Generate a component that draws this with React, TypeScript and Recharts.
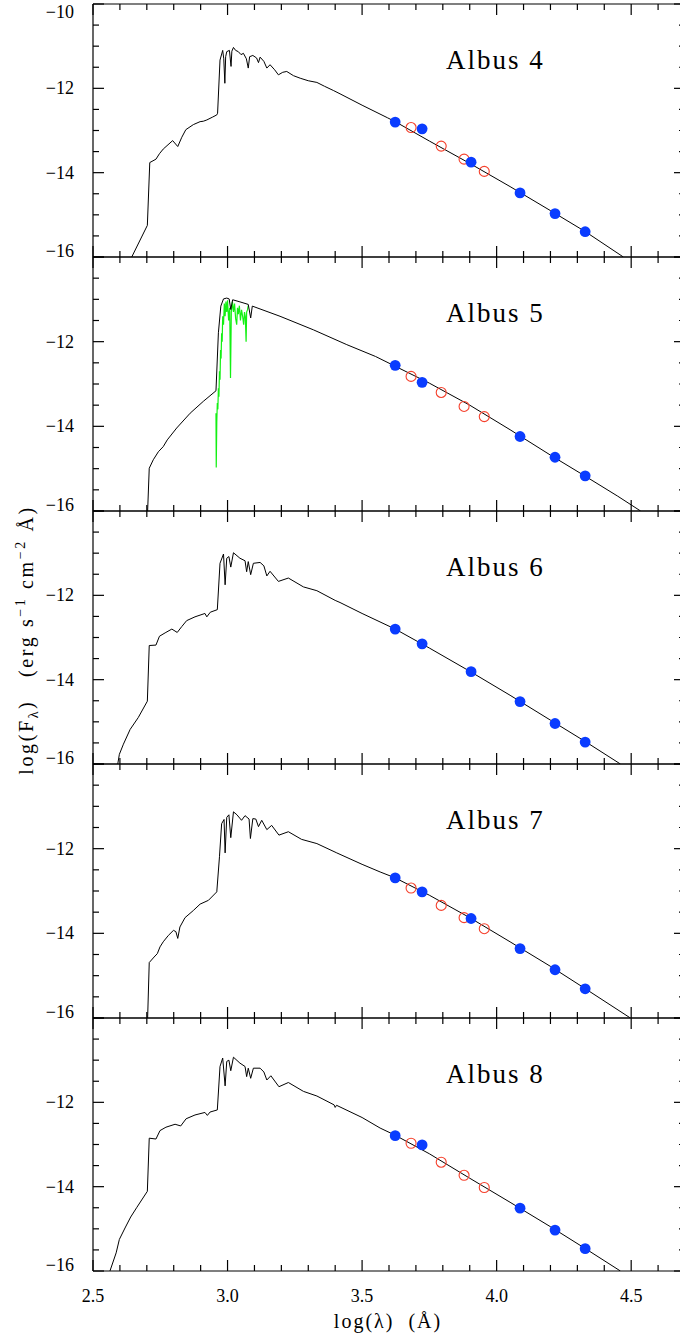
import React from 'react';
import { ComposedChart, Line, Scatter, XAxis, YAxis } from 'recharts';

const FONT = '"Liberation Serif", "Times New Roman", serif';

// model spectra: [log(lambda/A), log(F_lambda)]
const albus4Model = [
  [2.644, -16.0], [2.702, -15.25], [2.711, -13.76], [2.734, -13.68], [2.747, -13.55], [2.761, -13.44],
  [2.796, -13.24], [2.815, -13.38], [2.83, -13.16], [2.845, -12.98], [2.873, -12.86], [2.898, -12.79],
  [2.91, -12.78], [2.923, -12.75], [2.945, -12.68], [2.96, -12.63], [2.963, -12.59], [2.972, -11.33],
  [2.982, -11.1], [2.986, -11.3], [2.99, -11.88], [2.993, -11.25], [2.997, -11.13], [3.007, -11.1],
  [3.013, -11.48], [3.016, -11.12], [3.022, -11.03], [3.03, -11.1], [3.04, -11.13], [3.05, -11.2],
  [3.059, -11.17], [3.07, -11.3], [3.077, -11.52], [3.082, -11.25], [3.094, -11.22], [3.108, -11.28],
  [3.115, -11.39], [3.121, -11.26], [3.135, -11.36], [3.146, -11.52], [3.158, -11.44], [3.175, -11.56],
  [3.189, -11.68], [3.205, -11.62], [3.22, -11.6], [3.245, -11.7], [3.27, -11.76], [3.3, -11.82],
  [3.332, -11.86], [3.36, -11.95], [3.393, -12.05], [3.418, -12.13], [3.5, -12.4], [3.595, -12.7],
  [3.623, -12.79], [3.75, -13.25], [3.9, -13.78], [4.05, -14.33], [4.2, -14.9], [4.33, -15.4], [4.471, -16.0],
];

const albus5Model = [
  [2.703, -16.0], [2.709, -14.99], [2.724, -14.79], [2.743, -14.6], [2.761, -14.48], [2.776, -14.32],
  [2.811, -14.04], [2.861, -13.69], [2.91, -13.41], [2.957, -13.16], [2.966, -11.79], [2.975, -11.16],
  [2.985, -10.99], [2.997, -10.97], [3.006, -10.99], [3.012, -11.24], [3.019, -11.01], [3.046, -11.06],
  [3.077, -11.12], [3.086, -11.44], [3.092, -11.16], [3.195, -11.4], [3.319, -11.72], [3.443, -12.07],
  [3.55, -12.35], [3.623, -12.58], [3.75, -12.98], [3.9, -13.5], [4.05, -14.08], [4.2, -14.68],
  [4.33, -15.18], [4.45, -15.65], [4.535, -16.0],
];

// observed spectrum of Albus 5 (green)
const albus5Spectrum = [
  [2.957, -13.69], [2.958, -14.97], [2.96, -13.9], [2.962, -13.45], [2.964, -13.6], [2.966, -13.1],
  [2.968, -13.3], [2.97, -12.7], [2.972, -12.9], [2.974, -12.2], [2.976, -12.4], [2.978, -11.8],
  [2.98, -12.0], [2.982, -11.4], [2.985, -11.6], [2.988, -11.1], [2.991, -11.4], [2.994, -11.05],
  [2.997, -11.3], [3.0, -11.02], [3.004, -11.5], [3.008, -11.2], [3.011, -12.86], [3.014, -11.3],
  [3.018, -11.05], [3.022, -11.3], [3.026, -11.1], [3.03, -11.45], [3.034, -11.6], [3.037, -11.2],
  [3.04, -11.35], [3.044, -11.15], [3.048, -11.5], [3.052, -11.25], [3.056, -11.4], [3.06, -11.6],
  [3.063, -11.3], [3.066, -11.4], [3.069, -12.0], [3.071, -11.3], [3.074, -11.25], [3.077, -11.15],
];

const albus6Model = [
  [2.592, -16.0], [2.598, -15.77], [2.613, -15.53], [2.638, -15.18], [2.668, -14.9], [2.702, -14.51],
  [2.709, -13.19], [2.734, -13.18], [2.747, -12.97], [2.768, -12.89], [2.793, -12.8], [2.813, -12.88],
  [2.83, -12.74], [2.848, -12.6], [2.879, -12.51], [2.916, -12.43], [2.923, -12.51], [2.936, -12.4],
  [2.962, -12.34], [2.972, -11.24], [2.985, -11.02], [2.991, -11.75], [2.997, -11.12], [3.005, -11.08],
  [3.012, -11.33], [3.022, -10.99], [3.046, -11.12], [3.065, -11.18], [3.071, -11.44], [3.077, -11.2],
  [3.086, -11.51], [3.096, -11.24], [3.121, -11.22], [3.135, -11.3], [3.146, -11.54], [3.158, -11.43],
  [3.189, -11.67], [3.226, -11.59], [3.282, -11.8], [3.332, -11.89], [3.4, -12.12], [3.418, -12.17],
  [3.5, -12.43], [3.623, -12.8], [3.75, -13.25], [3.9, -13.8], [4.05, -14.37], [4.2, -14.96],
  [4.33, -15.47], [4.46, -16.0],
];

const albus7Model = [
  [2.703, -16.0], [2.709, -14.69], [2.727, -14.56], [2.739, -14.48], [2.749, -14.32], [2.761, -14.2],
  [2.78, -14.05], [2.799, -13.93], [2.808, -13.96], [2.815, -14.12], [2.823, -13.85], [2.842, -13.63],
  [2.873, -13.46], [2.898, -13.31], [2.929, -13.22], [2.96, -13.02], [2.97, -12.19], [2.978, -11.41],
  [2.987, -11.31], [2.991, -12.1], [2.997, -11.26], [3.005, -11.2], [3.012, -11.74], [3.022, -11.13],
  [3.035, -11.2], [3.052, -11.33], [3.065, -11.22], [3.08, -11.3], [3.085, -11.76], [3.094, -11.29],
  [3.105, -11.3], [3.115, -11.48], [3.127, -11.33], [3.146, -11.55], [3.164, -11.45], [3.191, -11.68],
  [3.226, -11.6], [3.275, -11.78], [3.332, -11.88], [3.406, -12.1], [3.5, -12.37], [3.567, -12.55],
  [3.623, -12.69], [3.75, -13.1], [3.9, -13.63], [4.05, -14.2], [4.2, -14.78], [4.33, -15.31], [4.497, -16.0],
];

const albus8Model = [
  [2.563, -16.0], [2.586, -15.57], [2.598, -15.25], [2.619, -14.98], [2.64, -14.72], [2.662, -14.5],
  [2.702, -14.11], [2.709, -12.85], [2.734, -12.87], [2.749, -12.67], [2.771, -12.59], [2.805, -12.52],
  [2.826, -12.56], [2.846, -12.39], [2.879, -12.3], [2.916, -12.24], [2.925, -12.31], [2.935, -12.23],
  [2.962, -12.18], [2.972, -11.15], [2.982, -10.95], [2.991, -11.61], [2.997, -11.03], [3.005, -11.0],
  [3.012, -11.25], [3.022, -10.93], [3.046, -11.07], [3.065, -11.15], [3.071, -11.39], [3.077, -11.19],
  [3.086, -11.43], [3.096, -11.19], [3.121, -11.19], [3.135, -11.28], [3.146, -11.47], [3.161, -11.37],
  [3.191, -11.63], [3.226, -11.53], [3.282, -11.74], [3.332, -11.85], [3.396, -12.06], [3.4, -12.12],
  [3.405, -12.07], [3.5, -12.36], [3.567, -12.61], [3.623, -12.78], [3.75, -13.22], [3.9, -13.8],
  [4.05, -14.37], [4.2, -14.95], [4.33, -15.47], [4.46, -16.0],
];

// broad-band photometry (blue filled)
const johnsonX = [3.623, 3.723, 3.905, 4.087, 4.217, 4.329];
const albus4Johnson = [-12.8, -12.96, -13.75, -14.48, -14.97, -15.4];
const albus5Johnson = [-12.56, -12.96, null, -14.24, -14.73, -15.17];
const albus6Johnson = [-12.8, -13.15, -13.81, -14.52, -15.04, -15.48];
const albus7Johnson = [-12.69, -13.02, -13.65, -14.36, -14.86, -15.31];
const albus8Johnson = [-12.79, -13.01, null, -14.51, -15.03, -15.47];

// SDSS photometry (red open)
const sdssX = [3.682, 3.794, 3.879, 3.954];
const albus4Sdss = [-12.93, -13.37, -13.68, -13.97];
const albus5Sdss = [-12.82, -13.2, -13.53, -13.77];
const albus6Sdss: (number | null)[] = [];
const albus7Sdss = [-12.93, -13.34, -13.63, -13.89];
const albus8Sdss = [-12.97, -13.42, -13.73, -14.02];

const xMajor = [2.5, 3.0, 3.5, 4.0, 4.5];
const xMinor = [2.6, 2.7, 2.8, 2.9, 3.1, 3.2, 3.3, 3.4, 3.6, 3.7, 3.8, 3.9, 4.1, 4.2, 4.3, 4.4, 4.6];
const yMajor = [-16, -14, -12, -10];
const yMinor = [-15.5, -15, -14.5, -13.5, -13, -12.5, -11.5, -11, -10.5];

const toPts = (pairs: number[][]) => pairs.map(([x, y]) => ({ x, y }));
const toPhot = (xs: number[], ys: (number | null)[]) =>
  ys.map((y, i) => ({ x: xs[i], y })).filter((p) => p.y !== null);

const panels = [
  { name: 'Albus 4', model: albus4Model, spec: null, johnson: albus4Johnson, sdss: albus4Sdss },
  { name: 'Albus 5', model: albus5Model, spec: albus5Spectrum, johnson: albus5Johnson, sdss: albus5Sdss },
  { name: 'Albus 6', model: albus6Model, spec: null, johnson: albus6Johnson, sdss: albus6Sdss },
  { name: 'Albus 7', model: albus7Model, spec: null, johnson: albus7Johnson, sdss: albus7Sdss },
  { name: 'Albus 8', model: albus8Model, spec: null, johnson: albus8Johnson, sdss: albus8Sdss },
];

const TOPS = [4, 257, 511, 764, 1018, 1271];
const X_DOMAIN: [number, number] = [2.5, 4.7];
const Y_DOMAIN: [number, number] = [-16, -10];
const AX = { stroke: '#000', strokeWidth: 1.2 };
const THIN = 0.001; // mirrored axes take (almost) no room

// tick marks only, no text
const NoLabel = () => <g />;

function YLabel(props: any) {
  const { x, y, payload } = props;
  const v = payload.value;
  const dy = v <= -16 ? 0 : v >= -10 ? 14 : 6;
  return (
    <text x={x} y={y + dy} textAnchor="end" fontFamily={FONT} fontSize={18} fill="#000">
      {'\u2212' + Math.abs(v)}
    </text>
  );
}

function XLabel(props: any) {
  const { x, y, payload } = props;
  return (
    <text x={x} y={y + 13} textAnchor="middle" fontFamily={FONT} fontSize={18} fill="#000">
      {Number(payload.value).toFixed(1)}
    </text>
  );
}

const BlueDot = (p: any) => <circle cx={p.cx} cy={p.cy} r={5.4} fill="#0a3cff" />;
const RedRing = (p: any) => <circle cx={p.cx} cy={p.cy} r={5} fill="none" stroke="#f5402c" strokeWidth={1.1} />;

function Panel({ idx }: { idx: number }) {
  const p = panels[idx];
  const isLast = idx === panels.length - 1;
  const plotH = TOPS[idx + 1] - TOPS[idx];
  const height = 4 + plotH + (isLast ? 66 : 4);
  const xCommon = {
    type: 'number' as const, dataKey: 'x', domain: X_DOMAIN, allowDataOverflow: true,
    interval: 0 as const, tick: NoLabel, mirror: true, height: THIN, tickLine: AX, stroke: '#000',
  };
  const yCommon = {
    type: 'number' as const, domain: Y_DOMAIN, allowDataOverflow: true,
    interval: 0 as const, tick: NoLabel, mirror: true, width: THIN, tickLine: AX, stroke: '#000',
  };
  return (
    <div style={{ position: 'absolute', left: 0, top: TOPS[idx] - 4 }}>
      <ComposedChart width={686} height={height} margin={{ top: 4, right: 1, bottom: isLast ? 0 : 4, left: 0 }}>
        <XAxis xAxisId="bMaj" orientation="bottom" ticks={xMajor} tickSize={11} axisLine={AX} {...xCommon} />
        <XAxis xAxisId="bMin" orientation="bottom" ticks={xMinor} tickSize={6} axisLine={false} {...xCommon} />
        <XAxis xAxisId="tMaj" orientation="top" ticks={xMajor} tickSize={11} axisLine={AX} {...xCommon} />
        <XAxis xAxisId="tMin" orientation="top" ticks={xMinor} tickSize={6} axisLine={false} {...xCommon} />
        {isLast && (
          <XAxis xAxisId="lab" orientation="bottom" type="number" dataKey="x" domain={X_DOMAIN}
            allowDataOverflow ticks={xMajor} interval={0} height={66} tickSize={0} tickMargin={18}
            tickLine={false} axisLine={false} tick={XLabel} />
        )}
        <YAxis yAxisId="lab" orientation="left" type="number" domain={Y_DOMAIN} allowDataOverflow
          ticks={idx === 0 ? yMajor : yMajor.slice(0, 3)} interval={0} width={93} tickSize={0}
          tickMargin={19} tickLine={false} axisLine={false} tick={YLabel} />
        <YAxis yAxisId="lMaj" orientation="left" ticks={yMajor} tickSize={11} axisLine={AX} {...yCommon} />
        <YAxis yAxisId="lMin" orientation="left" ticks={yMinor} tickSize={6} axisLine={false} {...yCommon} />
        <YAxis yAxisId="rMaj" orientation="right" ticks={yMajor} tickSize={11} axisLine={AX} {...yCommon} />
        <YAxis yAxisId="rMin" orientation="right" ticks={yMinor} tickSize={6} axisLine={false} {...yCommon} />

        {p.spec && (
          <Line xAxisId="bMaj" yAxisId="lMaj" data={toPts(p.spec)} dataKey="y" type="linear"
            stroke="#12f012" strokeWidth={1.2} dot={false} isAnimationActive={false} />
        )}
        <Line xAxisId="bMaj" yAxisId="lMaj" data={toPts(p.model)} dataKey="y" type="linear"
          stroke="#000" strokeWidth={1} dot={false} isAnimationActive={false} />
        <Scatter xAxisId="bMaj" yAxisId="lMaj" data={toPhot(sdssX, p.sdss)} dataKey="y"
          shape={RedRing} isAnimationActive={false} />
        <Scatter xAxisId="bMaj" yAxisId="lMaj" data={toPhot(johnsonX, p.johnson)} dataKey="y"
          shape={BlueDot} isAnimationActive={false} />
      </ComposedChart>
    </div>
  );
}

export default function App() {
  return (
    <div style={{ position: 'absolute', left: 0, top: 0, width: 680, height: 1337, overflow: 'hidden', background: '#fff' }}>
      {panels.map((_, i) => (
        <Panel key={i} idx={i} />
      ))}
      <svg width={680} height={1337} style={{ position: 'absolute', left: 0, top: 0, pointerEvents: 'none' }}>
        {panels.map((p, i) => (
          <text key={p.name} x={446} y={TOPS[i] + 65} fontFamily={FONT} fontSize={27} letterSpacing={2}
            fill="#000" style={{ whiteSpace: 'pre' }}>
            {p.name}
          </text>
        ))}
        <text x={388} y={1328} textAnchor="middle" fontFamily={FONT} fontSize={20} letterSpacing={2}
          fill="#000" style={{ whiteSpace: 'pre' }}>
          {'log(\u03bb)  (\u00c5)'}
        </text>
        <text x={33} y={640} transform="rotate(-90 33 640)" textAnchor="middle" fontFamily={FONT}
          fontSize={20} letterSpacing={2.6} fill="#000" style={{ whiteSpace: 'pre' }}>
          log(F
          <tspan dy={5} fontSize={14}>{'\u03bb'}</tspan>
          <tspan dy={-5}>{')   (erg s'}</tspan>
          <tspan dy={-8} fontSize={14}>{'\u22121'}</tspan>
          <tspan dy={8}>{' cm'}</tspan>
          <tspan dy={-8} fontSize={14}>{'\u22122'}</tspan>
          <tspan dy={8}>{' \u00c5)'}</tspan>
        </text>
      </svg>
    </div>
  );
}
